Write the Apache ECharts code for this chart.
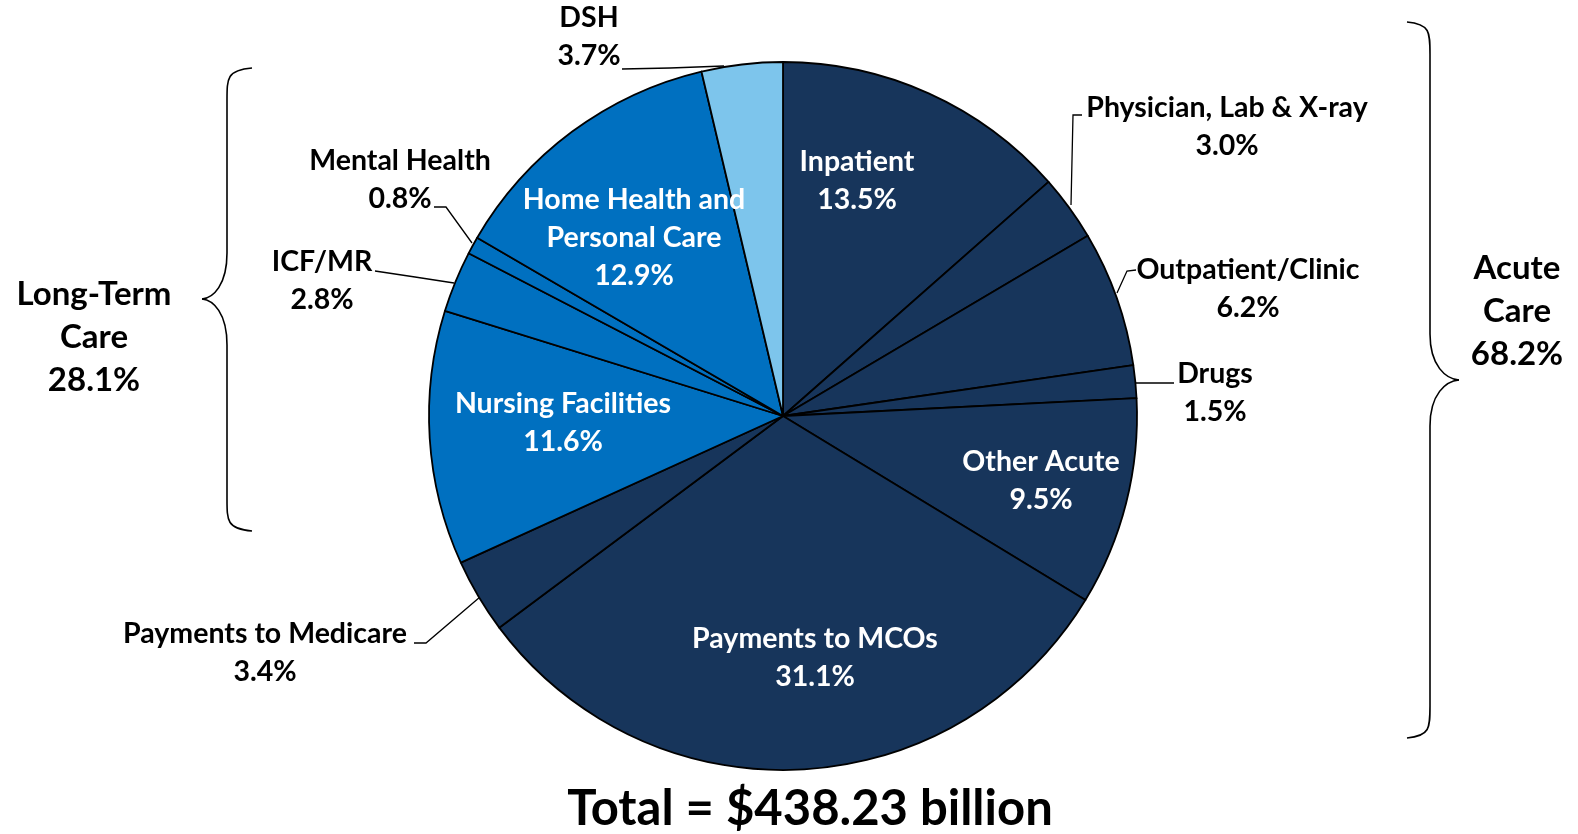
<!DOCTYPE html>
<html>
<head>
<meta charset="utf-8">
<title>Medicaid spending</title>
<script src="https://cdn.jsdelivr.net/npm/echarts@6/dist/echarts.min.js"></script>
<style>
  html, body { margin: 0; padding: 0; background: #fff; }
  #chart { width: 1578px; height: 834px; }
</style>
</head>
<body>
<div id="chart"></div>
<script>
const categories = [
  'Inpatient', 'Physician, Lab & X-ray', 'Outpatient/Clinic', 'Drugs', 'Other Acute',
  'Payments to MCOs', 'Payments to Medicare', 'Nursing Facilities', 'ICF/MR',
  'Mental Health', 'Home Health and Personal Care', 'DSH'
];
const shares = [13.5, 3.0, 6.2, 1.5, 9.5, 31.1, 3.4, 11.6, 2.8, 0.8, 12.9, 3.7];
const groupLabels = ['Long-Term\nCare\n28.1%', 'Acute\nCare\n68.2%'];
const totalText = 'Total = $438.23 billion';

const NAVY = '#17355B', BLUE = '#0070C0', LIGHT = '#7DC5EC';
const sliceColors = [NAVY, NAVY, NAVY, NAVY, NAVY, NAVY, NAVY, BLUE, BLUE, BLUE, BLUE, LIGHT];
const insideLabel = [true, false, false, false, true, true, false, true, false, false, true, false];

// label centres and leader lines (pixels)
const labelPos = [
  [857, 181], [1227, 127], [1248, 289], [1215, 393], [1041, 481], [815, 658],
  [265, 653], [563, 423], [322, 281], [400, 180], [634, 238], [589, 37]
];
const leaders = {
  1: [[1082, 115], [1073, 115], [1071, 205]],
  2: [[1136, 270], [1127, 271], [1117, 293]],
  3: [[1174, 383], [1150, 383], [1134, 383]],
  6: [[414, 643], [426, 643], [480, 597]],
  8: [[375, 271], [415, 277], [454, 283]],
  9: [[434, 207], [446, 207], [472, 243]],
  11: [[622, 69], [670, 68], [724, 66]]
};

const FONT = 'Lato';
const chart = echarts.init(document.getElementById('chart'));

// curly brace made of curves and straight stems
function brace(xEnd, yTop, xStem, xTip, yTip, yBot) {
  const s = { fill: null, stroke: '#000', lineWidth: 1.6 };
  const r = 32, t = 46;
  const d = xTip - xStem;
  return {
    type: 'group',
    children: [
      { type: 'bezierCurve', shape: { x1: xEnd, y1: yTop, cpx1: xStem, cpy1: yTop + 2, cpx2: xStem, cpy2: yTop + 10, x2: xStem, y2: yTop + r }, style: s },
      { type: 'line', shape: { x1: xStem, y1: yTop + r, x2: xStem, y2: yTip - t }, style: s },
      { type: 'bezierCurve', shape: { x1: xStem, y1: yTip - t, cpx1: xStem, cpy1: yTip - 14, cpx2: xStem + d * 0.55, cpy2: yTip - 1, x2: xTip, y2: yTip }, style: s },
      { type: 'bezierCurve', shape: { x1: xTip, y1: yTip, cpx1: xStem + d * 0.55, cpy1: yTip + 1, cpx2: xStem, cpy2: yTip + 14, x2: xStem, y2: yTip + t }, style: s },
      { type: 'line', shape: { x1: xStem, y1: yTip + t, x2: xStem, y2: yBot - r }, style: s },
      { type: 'bezierCurve', shape: { x1: xStem, y1: yBot - r, cpx1: xStem, cpy1: yBot - 10, cpx2: xStem, cpy2: yBot - 2, x2: xEnd, y2: yBot }, style: s }
    ]
  };
}

const option = {
  animation: false,
  series: [{
    type: 'pie',
    center: [783, 416],
    radius: 354,
    startAngle: 90,
    clockwise: true,
    avoidLabelOverlap: false,
    itemStyle: { borderColor: '#000', borderWidth: 1.8 },
    label: {
      fontFamily: FONT,
      fontWeight: 'bold',
      fontSize: 28.5,
      lineHeight: 38,
      align: 'center',
      formatter: p => p.name.replace(' and ', ' and\n') + '\n' + p.value.toFixed(1) + '%'
    },
    labelLine: {
      show: true,
      lineStyle: { color: '#000', width: 1.3 }
    },
    labelLayout: params => {
      const i = params.dataIndex;
      const out = {
        x: labelPos[i][0],
        y: labelPos[i][1],
        align: 'center',
        verticalAlign: 'middle'
      };
      if (leaders[i]) out.labelLinePoints = leaders[i];
      return out;
    },
    data: categories.map((name, i) => ({
      name: name,
      value: shares[i],
      itemStyle: { color: sliceColors[i] },
      label: insideLabel[i]
        ? { position: 'inside', color: '#fff' }
        : { position: 'outside', color: '#000' },
      labelLine: { show: !insideLabel[i] }
    }))
  }],
  graphic: [
    brace(252, 68, 227, 202, 299, 531),
    brace(1407, 22, 1430, 1459, 380, 738),
    {
      type: 'text',
      x: 94, y: 337,
      style: {
        text: groupLabels[0], fill: '#000', font: 'bold 33px ' + FONT,
        lineHeight: 43, align: 'center', verticalAlign: 'middle'
      }
    },
    {
      type: 'text',
      x: 1517, y: 311,
      style: {
        text: groupLabels[1], fill: '#000', font: 'bold 33px ' + FONT,
        lineHeight: 43, align: 'center', verticalAlign: 'middle'
      }
    },
    {
      type: 'text',
      x: 810, y: 809,
      style: {
        text: totalText, fill: '#000', font: 'bold 49px ' + FONT,
        align: 'center', verticalAlign: 'middle'
      }
    }
  ]
};

chart.setOption(option);
</script>
</body>
</html>
